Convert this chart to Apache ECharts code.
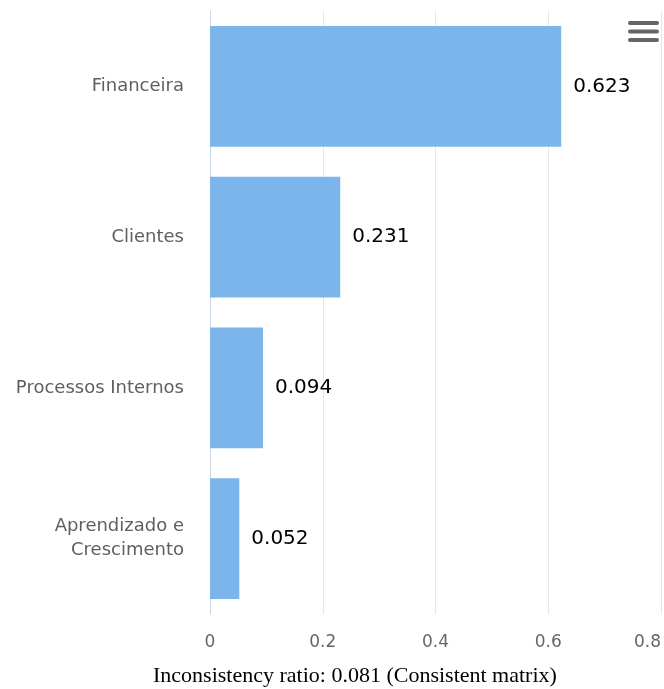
<!DOCTYPE html>
<html>
<head>
<meta charset="utf-8">
<script src="https://cdn.jsdelivr.net/npm/echarts@6/dist/echarts.min.js"></script>
<style>html,body{margin:0;padding:0;background:#fff}#c{width:664px;height:689px}</style>
</head>
<body>
<div id="c"></div>
<script>
const categories = ['Financeira', 'Clientes', 'Processos Internos', 'Aprendizado e\nCrescimento'];
const values = [0.623, 0.231, 0.094, 0.052];
const xTicks = [0, 0.2, 0.4, 0.6, 0.8];
const caption = 'Inconsistency ratio: 0.081 (Consistent matrix)';

const chart = echarts.init(document.getElementById('c'));
chart.setOption({
  animation: false,
  grid: { left: 210, right: 3, top: 11, bottom: 75, containLabel: false, outerBoundsMode: 'none' },
  xAxis: {
    type: 'value', min: xTicks[0], max: xTicks[xTicks.length - 1], interval: 0.2,
    axisLine: { show: false }, axisTick: { show: false },
    splitLine: { lineStyle: { color: '#e6e6e6' } },
    axisLabel: { color: '#666', fontSize: 17, fontFamily: 'DejaVu Sans', margin: 20,
      alignMaxLabel: 'right',
      formatter: v => String(+v.toFixed(1)) }
  },
  yAxis: {
    type: 'category', data: categories, inverse: true,
    axisLine: { show: true, lineStyle: { color: '#ccd6eb' } },
    axisTick: { show: false },
    axisLabel: { color: '#5f5f5f', fontSize: 18, fontFamily: 'DejaVu Sans', margin: 26, lineHeight: 24, align: 'right',
      padding: [4, 0, 0, 0] }
  },
  series: [{
    type: 'bar', data: values, barCategoryGap: '20%',
    itemStyle: { color: '#7cb5ec' },
    label: { show: true, position: 'right', distance: 12, color: '#000', fontSize: 20,
      fontFamily: 'DejaVu Sans', formatter: p => p.value.toFixed(3) }
  }],
  graphic: [
    { type: 'text', left: 153, top: 665, z: 100, style: { text: caption, font: '22px "Liberation Serif"', fill: '#000' } },
    { type: 'rect', z: 100, shape: { x: 628, y: 21, width: 31, height: 4, r: 2 }, style: { fill: '#666' } },
    { type: 'rect', z: 100, shape: { x: 628, y: 29.5, width: 31, height: 4, r: 2 }, style: { fill: '#666' } },
    { type: 'rect', z: 100, shape: { x: 628, y: 38, width: 31, height: 4, r: 2 }, style: { fill: '#666' } }
  ]
});
</script>
</body>
</html>
